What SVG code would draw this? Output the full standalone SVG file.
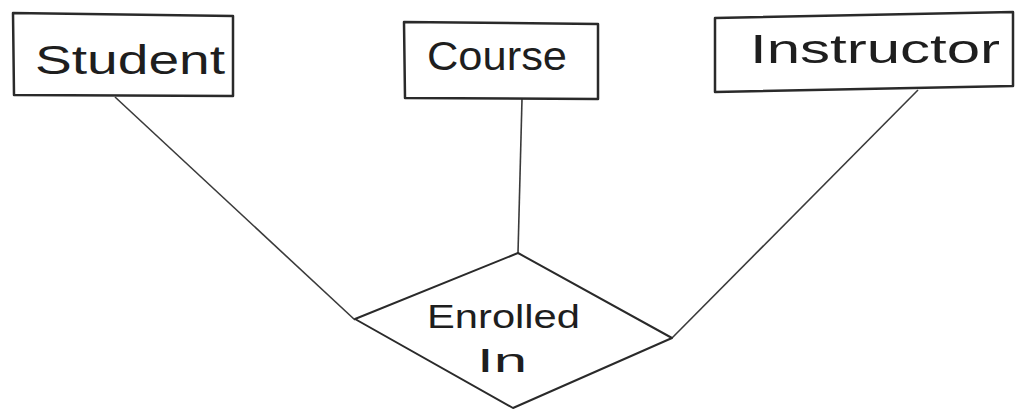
<svg xmlns="http://www.w3.org/2000/svg" width="1023" height="411" viewBox="0 0 1023 411">
<style>
.box{fill:none;stroke:#2a2a2a;stroke-width:2.5;stroke-linejoin:round}
.dia{fill:none;stroke:#2a2a2a;stroke-width:2;stroke-linejoin:round}
.conn{fill:none;stroke:#3a3a3a;stroke-width:1.6}
.lbl{font-family:"Liberation Sans",Arial,sans-serif;fill:#1e1e1e;text-anchor:start}
</style>
<rect width="1023" height="411" fill="#ffffff"/>
<g id="connectors">
<line class="conn" x1="115" y1="97" x2="355" y2="320"/>
<line class="conn" x1="522" y1="99" x2="518" y2="253"/>
<line class="conn" x1="918" y1="90" x2="672" y2="338"/>
</g>
<g id="student">
<polygon class="box" points="13,13 233,16 233,96 14,95"/>
<text class="lbl" x="35" y="74" font-size="40" textLength="190" lengthAdjust="spacingAndGlyphs">Student</text>
</g>
<g id="course">
<polygon class="box" points="404,22 598,24 598,99 405,98"/>
<text class="lbl" x="427" y="70" font-size="40" textLength="140" lengthAdjust="spacingAndGlyphs">Course</text>
</g>
<g id="instructor">
<polygon class="box" points="715,18 1013,12 1013,86 715,92"/>
<text class="lbl" x="750" y="63" font-size="40" textLength="250" lengthAdjust="spacingAndGlyphs">Instructor</text>
</g>
<g id="enrolled_in">
<polygon class="dia" points="518,253 672,338 513,408 355,319"/>
<text class="lbl" x="427" y="328" font-size="34" textLength="153" lengthAdjust="spacingAndGlyphs">Enrolled</text>
<text class="lbl" x="477" y="372" font-size="34" textLength="50" lengthAdjust="spacingAndGlyphs">In</text>
</g>
</svg>
